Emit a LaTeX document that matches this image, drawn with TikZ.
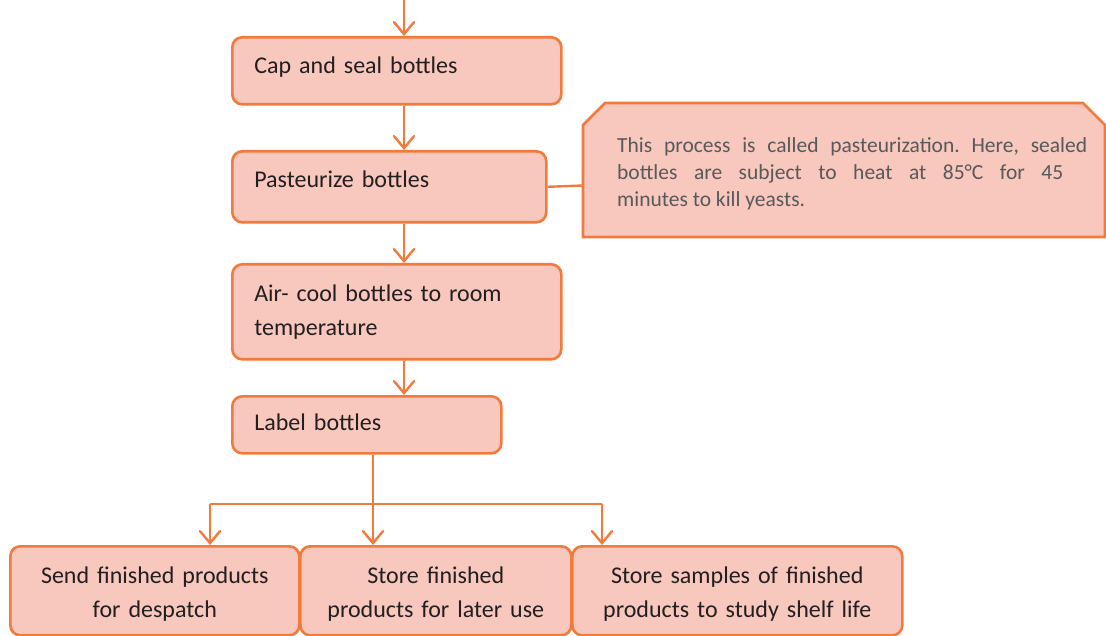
\documentclass[tikz,border=0pt]{standalone}
\usepackage{fontspec}
\setmainfont{Carlito}
\frenchspacing
\usetikzlibrary{arrows.meta}
\definecolor{boxfill}{HTML}{F8C7BD}
\definecolor{boxline}{HTML}{F27A3B}
\definecolor{ink}{HTML}{231F20}
\definecolor{noteink}{HTML}{58595B}
\begin{document}
\begin{tikzpicture}[x=1pt,y=1pt,
  stepbox/.style={draw=boxline, fill=boxfill, line width=2.6pt, rounded corners=10pt,
    anchor=north west, inner xsep=22pt, inner ysep=0pt, text=ink,
    font=\fontsize{24}{34}\selectfont},
  leftbox/.style={stepbox, align=left},
  endbox/.style={stepbox, align=center, inner xsep=6pt},
  link/.style={draw=boxline, line width=2.4pt},
  arr/.style={link, -{Straight Barb[length=12pt,width=20pt,line cap=round]}}]
\useasboundingbox (0,0) rectangle (1106,-636);

% process steps
\node[leftbox, minimum width=329, minimum height=67, text width=285,
  text height=15pt, text depth=10pt] (cap) at (231,-36) {Cap and seal bottles};
\node[leftbox, minimum width=314, minimum height=71, text width=270,
  text height=14pt, text depth=13pt] (past) at (231,-150) {Pasteurize bottles};
\node[leftbox, minimum width=329, minimum height=95, text width=285] (cool) at (231,-263) {Air- cool bottles to room\\temperature};
\node[leftbox, minimum width=269, minimum height=57, text width=225,
  text height=16pt, text depth=5pt] (label) at (231,-395) {Label bottles};

% final destinations
\node[endbox, minimum width=289, minimum height=89, text width=277] (send) at (9,-545)
  {\rule{0pt}{23pt}Send finished products\\for despatch};
\node[endbox, minimum width=271, minimum height=89, text width=259] (store) at (299,-545)
  {\rule{0pt}{23pt}Store finished\\products for later use};
\node[endbox, minimum width=330, minimum height=89, text width=318] (samp) at (571,-545)
  {\rule{0pt}{23pt}Store samples of finished\\products to study shelf life};

% note on pasteurization
\draw[draw=boxline, fill=boxfill, line width=2.6pt]
  (583,-237) -- (583,-125) -- (605,-103) -- (1083,-103) -- (1105,-125) -- (1105,-237) -- cycle;
\coordinate (noteL) at (583,-185.5);
\node[anchor=north west, inner sep=0pt, text=noteink, align=left,
  font=\fontsize{21.5}{27}\selectfont] (note) at (617,-137)
  {\makebox[470pt][s]{This process is called pasteurization. Here, sealed}\\
   \makebox[446pt][s]{bottles are subject to heat at 85°C for 45}\\
   minutes to kill yeasts.};
\draw[link] (past.east) -- (noteL);

% main flow
\coordinate (top) at (404,0);
\draw[arr] (top) -- (top |- cap.north);
\draw[arr] (top |- cap.south) -- (top |- past.north);
\draw[arr] (top |- past.south) -- (top |- cool.north);
\draw[arr] (top |- cool.south) -- (top |- label.north);

% branching to destinations
\coordinate (bmid) at (373,-504);
\coordinate (bleft) at (210,-504);
\coordinate (bright) at (602,-504);
\draw[link] (label.south -| bmid) -- (bmid);
\draw[link] (bleft) -- (bright);
\draw[arr] (bleft) -- (bleft |- send.north);
\draw[arr] (bmid) -- (bmid |- store.north);
\draw[arr] (bright) -- (bright |- samp.north);
\end{tikzpicture}
\end{document}
